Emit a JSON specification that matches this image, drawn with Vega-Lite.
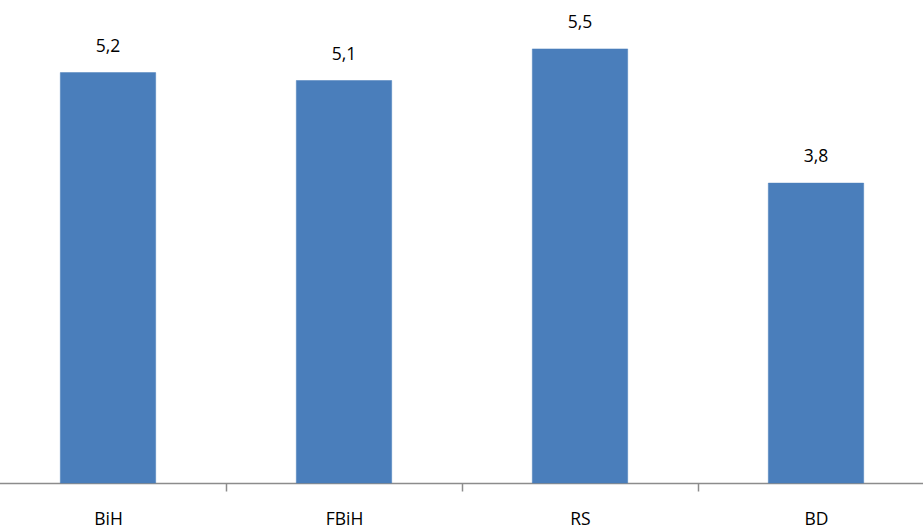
{
  "$schema": "https://vega.github.io/schema/vega-lite/v6.json",
  "autosize": {"type": "none"},
  "width": 944,
  "height": 483,
  "padding": {"left": -10, "top": 0, "right": 0, "bottom": 46},
  "background": "white",
  "config": {"view": {"stroke": null}, "font": "Open Sans"},
  "data": {
    "values": [
      {"region": "BiH", "value": 5.2, "label": "5,2"},
      {"region": "FBiH", "value": 5.1, "label": "5,1"},
      {"region": "RS", "value": 5.5, "label": "5,5"},
      {"region": "BD", "value": 3.8, "label": "3,8"}
    ]
  },
  "encoding": {
    "x": {
      "field": "region",
      "type": "nominal",
      "sort": null,
      "scale": {"paddingInner": 0, "paddingOuter": 0},
      "axis": {
        "title": null,
        "labelAngle": 0,
        "labelFontSize": 17.5,
        "labelColor": "#000000",
        "labelPadding": 19,
        "domainColor": "#8c8c8c",
        "domainWidth": 1.5,
        "tickColor": "#8c8c8c",
        "tickSize": 8,
        "tickWidth": 1.5,
        "tickBand": "extent",
        "grid": false
      }
    },
    "y": {
      "field": "value",
      "type": "quantitative",
      "scale": {"domain": [0, 6.12], "nice": false},
      "axis": null
    }
  },
  "layer": [
    {"mark": {"type": "bar", "width": {"band": 0.404}, "color": "#4a7ebb", "stroke": "#4a7ebb", "strokeWidth": 0.5}},
    {
      "mark": {"type": "text", "dy": -21, "baseline": "alphabetic", "fontSize": 17.5, "color": "#000000"},
      "encoding": {"text": {"field": "label"}}
    }
  ]
}
